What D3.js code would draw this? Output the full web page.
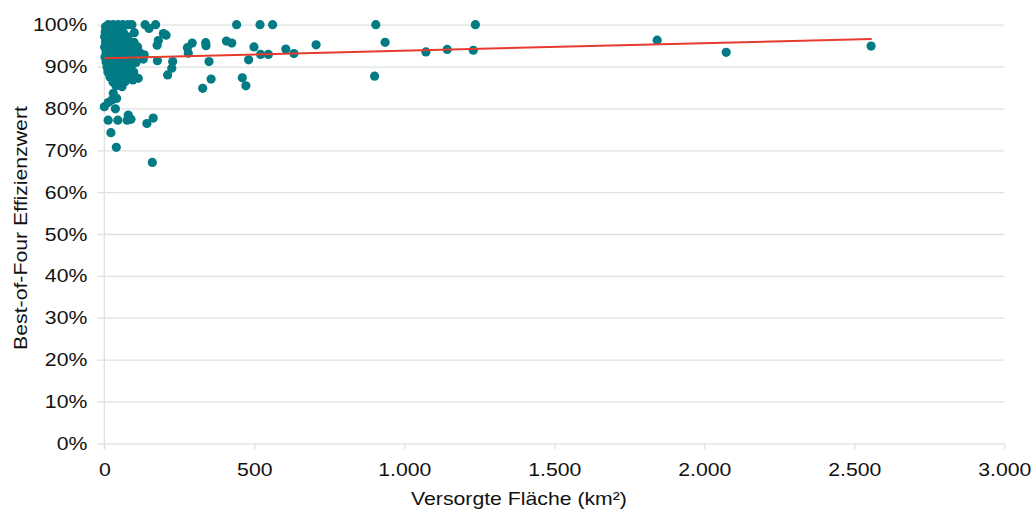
<!DOCTYPE html>
<html><head><meta charset="utf-8">
<script src="https://cdn.jsdelivr.net/npm/d3@7"></script>
<style>
html,body{margin:0;padding:0;background:#fff;}
svg{display:block;font-family:"Liberation Sans",Arial,sans-serif;}
</style></head>
<body><svg id="chart" width="1032" height="514"></svg>
<script>
// Versorgte Fläche (km²)
const areaKm2 = [
 2556,2073,1843,1237,1230,1143,1072,936,905,901,706,632,605,561,547,521,519,499,481,460,472,441,425,407,356,349,338,339,328,293,280,277,228,225,211,206,197,180,176,177,171,149,136,133,130,113,100,
 160,142,163,89,80,76,45,13,22,40,37,0,13,30,41,25,
 13,29,46,62,79,92,4,
 3,22,44,64,
 1,16,36,56,78,
 4,19,39,58,80,99,
 1,15,33,52,72,91,111,
 6,24,43,61,83,102,118,
 2,19,37,56,76,96,
 6,26,46,66,86,106,
 9,29,49,69,89,
 12,32,52,72,98,
 19,39,59,79,
 29,49,69,
 39,59,
 10,27,48,68,88,8,34,55,74,95,14,51,67,85
];
// Best-of-Four Effizienzwert
const efficiency = [
 0.949,0.934,0.963,1.000,0.939,0.941,0.935,0.958,1.000,0.877,0.952,0.931,0.942,1.000,0.929,0.929,1.000,0.947,0.916,0.873,0.854,1.000,0.956,0.961,0.870,0.912,0.957,0.950,0.848,0.956,0.932,0.945,0.912,0.896,0.880,0.975,0.979,0.962,0.951,0.914,1.000,0.991,1.000,0.928,0.918,0.872,0.981,
 0.671,0.764,0.777,0.774,0.784,0.772,0.772,0.772,0.742,0.707,0.799,0.804,0.814,0.836,0.824,0.820,
 1.000,1.000,1.000,1.000,1.000,1.000,0.995,
 0.983,0.982,0.984,0.981,
 0.971,0.970,0.972,0.969,0.971,
 0.959,0.958,0.960,0.957,0.959,0.958,
 0.947,0.946,0.948,0.945,0.947,0.946,0.947,
 0.935,0.934,0.936,0.933,0.935,0.934,0.933,
 0.923,0.922,0.924,0.921,0.923,0.922,
 0.911,0.910,0.912,0.909,0.911,0.910,
 0.899,0.898,0.900,0.897,0.899,
 0.887,0.886,0.888,0.885,0.887,
 0.875,0.874,0.876,0.873,
 0.863,0.862,0.864,
 0.854,0.852,
 0.990,0.965,0.953,0.941,0.929,0.917,0.905,0.893,0.880,0.868,0.978,0.990,0.905,0.893
];
// Trend line (linear fit)
const trendArea = [0, 2558];
const trendEff = [0.920, 0.966];
const xTickValues = [0,500,1000,1500,2000,2500,3000];
const yTickValues = [0,0.1,0.2,0.3,0.4,0.5,0.6,0.7,0.8,0.9,1.0];
const xTitle = "Versorgte Fläche (km²)";
const yTitle = "Best-of-Four Effizienzwert";

const svg = d3.select("#chart");
const mLeft = 104.3, mRight = 1004.3, mTop = 24.7, mBottom = 443.3;
const x = d3.scaleLinear().domain([0,3000]).range([mLeft,mRight]);
const y = d3.scaleLinear().domain([0,1]).range([mBottom,mTop]);
const de = d3.formatLocale({decimal:",",thousands:".",grouping:[3],currency:["","€"]});
const fmtX = de.format(",.0f");
const fmtY = d => Math.round(d*100) + "%";
const gridColor = "#dde2df";
const SX = 1.18;

// Y axis with gridlines
const yAxis = svg.append("g").attr("transform", `translate(${mLeft},0)`)
  .call(d3.axisLeft(y).tickValues(yTickValues).tickFormat(fmtY).tickSize(-(mRight-mLeft)).tickPadding(0));
yAxis.select(".domain").remove();
yAxis.selectAll(".tick line").attr("x1", -7).attr("stroke", gridColor).attr("stroke-width", 1.3);
yAxis.selectAll(".tick text")
  .attr("x", -17/SX).attr("dy", "0.34em")
  .attr("transform", `scale(${SX},1)`)
  .attr("font-size", 18).attr("fill", "#111").attr("font-family", "Liberation Sans, Arial, sans-serif");

// X axis
const xAxis = svg.append("g").attr("transform", `translate(0,${mBottom})`)
  .call(d3.axisBottom(x).tickValues(xTickValues).tickFormat(fmtX).tickSize(6).tickPadding(0));
xAxis.select(".domain").remove();
xAxis.selectAll(".tick line").attr("stroke", gridColor).attr("stroke-width", 1.3);
xAxis.selectAll(".tick text")
  .attr("y", 20).attr("dy", "0.71em")
  .attr("transform", `scale(${SX},1)`)
  .attr("font-size", 18).attr("fill", "#111").attr("font-family", "Liberation Sans, Arial, sans-serif");

// vertical axis line
svg.append("line").attr("x1", mLeft).attr("x2", mLeft).attr("y1", mTop).attr("y2", mBottom+6)
  .attr("stroke", gridColor).attr("stroke-width", 1.3);

// points
const pts = areaKm2.map((a,i) => ({a, e: efficiency[i]}));
svg.append("g").selectAll("circle").data(pts).join("circle")
  .attr("cx", d => x(d.a)).attr("cy", d => y(d.e)).attr("r", 4.6)
  .attr("fill", "#027b84");

// trend line
const trend = trendArea.map((a,i) => [a, trendEff[i]]);
svg.append("path").datum(trend)
  .attr("d", d3.line().x(d => x(d[0])).y(d => y(d[1])))
  .attr("stroke", "#e63b2e").attr("stroke-width", 2).attr("fill", "none");

// titles
svg.append("text").attr("transform", `translate(519,505) scale(${SX},1)`)
  .attr("text-anchor", "middle").attr("font-size", 18).attr("fill", "#111").text(xTitle);
svg.append("text").attr("transform", `translate(27,228) rotate(-90) scale(${SX},1)`)
  .attr("text-anchor", "middle").attr("font-size", 18).attr("fill", "#111").text(yTitle);
</script></body></html>
